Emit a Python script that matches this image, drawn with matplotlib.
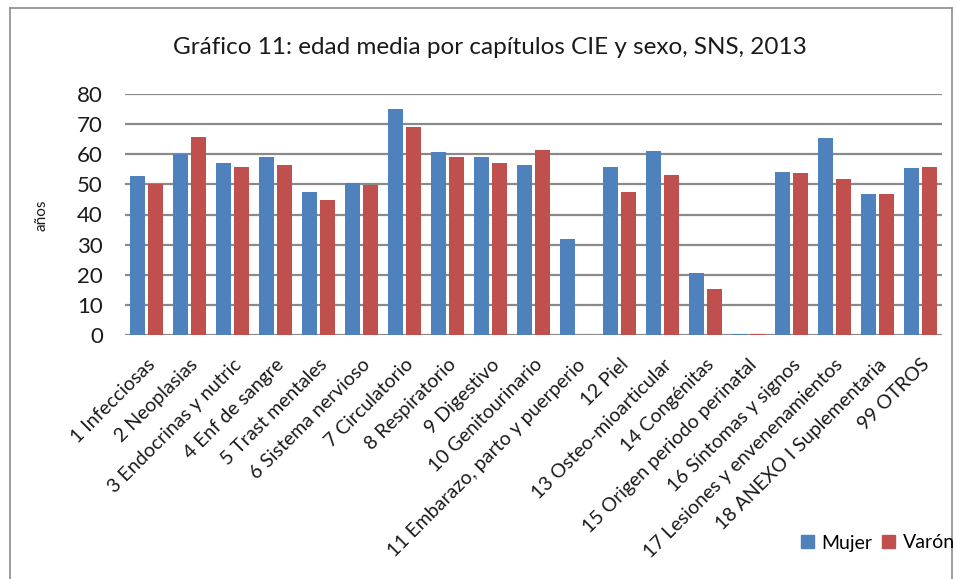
import matplotlib
matplotlib.use("Agg")
import matplotlib.pyplot as plt
from matplotlib.lines import Line2D
from matplotlib.patches import Patch
import numpy as np

plt.rcParams['font.family'] = ['Lato', 'DejaVu Sans']

categories = [
    "1 Infecciosas", "2 Neoplasias", "3 Endocrinas y nutric", "4 Enf de sangre",
    "5 Trast mentales", "6 Sistema nervioso", "7 Circulatorio", "8 Respiratorio",
    "9 Digestivo", "10 Genitourinario", "11 Embarazo, parto y puerperio", "12 Piel",
    "13 Osteo-mioarticular", "14 Congénitas", "15 Origen periodo perinatal",
    "16 Síntomas y signos", "17 Lesiones y envenenamientos",
    "18 ANEXO I Suplementaria", "99 OTROS",
]
mujer = [52.9, 60.2, 57.2, 59.2, 47.6, 50.6, 75.1, 60.8, 59.2, 56.5, 32.0, 55.9,
         61.2, 20.7, 0.3, 54.2, 65.5, 46.9, 55.5]
varon = [50.2, 65.8, 55.9, 56.5, 44.9, 49.9, 69.1, 59.2, 57.2, 61.5, 0.0, 47.6,
         53.2, 15.4, 0.3, 53.9, 51.9, 46.9, 55.9]
yticks = [0, 10, 20, 30, 40, 50, 60, 70, 80]

W, H = 957, 579
fig = plt.figure(figsize=(W / 100, H / 100), dpi=100)
ax = fig.add_axes([125 / W, 1 - 335 / H, (942 - 125) / W, (335 - 94) / H])

blue = "#4F81BD"
red = "#C0504D"
x = np.arange(len(categories))
bw = 0.35
off = 0.21
ax.bar(x - off, mujer, bw, color=blue, zorder=3, label="Mujer")
ax.bar(x + off, varon, bw, color=red, zorder=3, label="Varón")

ax.set_xlim(-0.5, len(categories) - 0.5)
ax.set_ylim(0, 80)
ax.set_yticks(yticks)
ax.set_yticklabels([str(t) for t in yticks], fontsize=16, color="#1a1a1a")
for t in yticks:
    ax.axhline(t, color="#8a8a8a", lw=1.6, zorder=1)
for s in ax.spines.values():
    s.set_visible(False)
ax.tick_params(axis="y", length=0, pad=16)
ax.tick_params(axis="x", length=0, pad=15)
ax.set_xticks(x)
ax.set_xticklabels(categories, rotation=45, ha="right", va="top",
                   rotation_mode="anchor", fontsize=14, color="#1a1a1a")

fig.text(490 / W, 1 - 47 / H, "Gráfico 11: edad media por capítulos CIE y sexo, SNS, 2013",
         ha="center", va="center", fontsize=17.5, color="#1a1a1a")
fig.text(42 / W, 1 - 215 / H, "años", rotation=90, ha="center", va="center",
         fontsize=11, color="#1a1a1a")

handles = [Patch(color=blue), Patch(color=red)]
fig.legend(handles, ["Mujer", "Varón"], loc="center", bbox_to_anchor=(878 / W, 1 - 543 / H),
           ncol=2, frameon=False, fontsize=14, handlelength=0.65, handleheight=0.65,
           handletextpad=0.4, columnspacing=0.5, borderpad=0)

# outer border
bc = "#8c8c8c"
fig.add_artist(Line2D([10 / W, 10 / W], [0, 1 - 8 / H], color=bc, lw=1.2))
fig.add_artist(Line2D([10 / W, 952 / W], [1 - 8 / H, 1 - 8 / H], color=bc, lw=1.2))
fig.add_artist(Line2D([952 / W, 952 / W], [0, 1 - 8 / H], color=bc, lw=1.2))

fig.savefig("out.png", dpi=100)
